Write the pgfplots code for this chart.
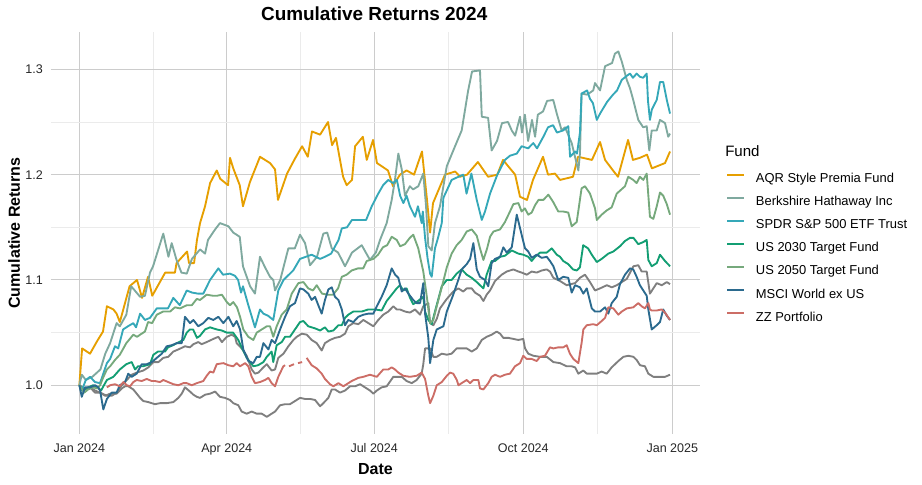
\documentclass[border=0pt]{standalone}
\usepackage{pgfplots}
\pgfplotsset{compat=1.18}
\usepackage{fontspec}
\setmainfont{Liberation Sans}
\definecolor{cAQR}{HTML}{E69F00}
\definecolor{cBRK}{HTML}{7FA99F}
\definecolor{cSPY}{HTML}{35A8B8}
\definecolor{cUS30}{HTML}{139E73}
\definecolor{cUS50}{HTML}{76A97C}
\definecolor{cMSCI}{HTML}{2B6A8E}
\definecolor{cZZ}{HTML}{CC6D66}
\definecolor{cGray}{HTML}{7F7F7F}
\begin{document}
\begin{tikzpicture}
\useasboundingbox (-38.25pt,-38.25pt) rectangle (653.25pt,325.5pt);
\begin{axis}[
  at={(0pt,0pt)}, anchor=south west,
  scale only axis, width=486.75pt, height=301.5pt,
  xmin=-17.5, xmax=383.1, ymin=0.9537, ymax=1.3355,
  axis line style={draw=none}, tick style={draw=none},
  xtick={0,91,182,274,366},
  xticklabels={Jan 2024,Apr 2024,Jul 2024,Oct 2024,Jan 2025},
  minor xtick={45.5,136.5,228,320},
  ytick={1.0,1.1,1.2,1.3}, minor ytick={1.05,1.15,1.25},
  grid=both,
  major grid style={color=black!20, line width=0.8pt},
  minor grid style={color=black!8, line width=0.6pt},
  /pgf/number format/assume math mode=true,
  yticklabel style={/pgf/number format/.cd, fixed, fixed zerofill, precision=1, /tikz/.cd,
    font=\fontsize{9.4}{11}\selectfont, text=black!85, inner sep=0pt, xshift=-6pt},
  xticklabel style={font=\fontsize{9.4}{11}\selectfont, text=black!85, inner sep=0pt, yshift=-6.75pt},
  unbounded coords=jump,
  legend cell align=left,
  legend image code/.code={\draw[#1, line width=1.5pt] (0pt,3.5pt) -- (12.75pt,3.5pt); \path (0pt,0pt) (21pt,0pt);},
  legend style={at={(1.0401,0.6493)}, anchor=north west, draw=none, fill=none,
    inner sep=0pt, outer sep=0pt, row sep=8pt, column sep=0pt,
    font=\fontsize{9.7}{12}\selectfont,
    nodes={inner sep=0pt, text height=7.3pt, text depth=2pt}},
  every axis plot/.append style={line width=1.4pt, line join=round},
]
% gray upper (not in legend)
\addplot[cGray, forget plot] coordinates {
(0,1.0)(3.5,0.996)(6.6,0.998)(9.7,0.995)(12.8,0.993)(17,0.99)(20,0.99)(23,0.993)(26.2,1.0)(29.3,1.005)(32.3,1.01)(35.4,1.012)(39.5,1.014)(42.6,1.017)(45.7,1.022)(48.8,1.022)(51.8,1.026)(54.9,1.027)(58,1.032)(61.1,1.034)(65.2,1.037)(68.3,1.036)(70.4,1.039)(73.4,1.041)(75.5,1.039)(78.6,1.041)(82.7,1.044)(85.8,1.046)(88,1.041)(91,1.046)(94,1.048)(96.1,1.046)(97.1,1.04)(100.2,1.035)(103.3,1.028)(106.4,1.015)(108.4,1.011)(110.5,1.012)(113.6,1.017)(115.7,1.02)(118.7,1.014)(120.8,1.015)(122.8,1.026)(126,1.03)(129,1.037)(132.1,1.043)(134.2,1.046)(137.3,1.049)(140.4,1.048)(143.4,1.043)(146.5,1.04)(149.6,1.033)(151.6,1.04)(154.7,1.043)(157.8,1.045)(160.9,1.046)(164,1.049)(166,1.056)(169.1,1.059)(172.2,1.058)(175.3,1.062)(178.4,1.059)(181.5,1.056)(184.5,1.062)(187.6,1.067)(190.7,1.07)(193.8,1.075)(195.9,1.072)(197.9,1.072)(201,1.07)(204.1,1.069)(207.2,1.072)(210.3,1.067)(212.3,1.075)(215.4,1.078)(216.5,1.059)(218.5,1.057)(220.6,1.063)(222.6,1.073)(226.8,1.082)(230.8,1.089)(233.9,1.092)(237,1.089)(239.1,1.092)(242.2,1.092)(244.2,1.088)(247.3,1.085)(249.4,1.08)(251.4,1.086)(253.5,1.09)(256.6,1.099)(260.7,1.105)(263.8,1.108)(267.9,1.11)(271,1.108)(273,1.107)(276.2,1.105)(279.2,1.108)(282.3,1.107)(285.4,1.109)(288.5,1.11)(290.5,1.108)(292.6,1.102)(296.7,1.099)(300.8,1.095)(306,1.097)(309,1.102)(312.1,1.105)(315.2,1.098)(318.3,1.09)(321.4,1.092)(325.6,1.095)(328.7,1.093)(331.7,1.095)(334.8,1.098)(337.9,1.101)(342,1.113)(345,1.114)(347.1,1.108)(350.2,1.108)(352.2,1.087)(354.3,1.092)(356.4,1.097)(359.5,1.095)(362.6,1.098)(364.6,1.096)
};
% gray lower (not in legend)
\addplot[cGray, forget plot] coordinates {
(0,1.0)(3.5,0.996)(6.6,0.998)(9.7,0.993)(12.8,0.993)(15.9,0.99)(19,0.992)(23,0.992)(26.2,0.997)(28.2,0.999)(30.2,0.999)(33.3,0.996)(35.4,0.992)(37.5,0.988)(39.5,0.985)(42.6,0.984)(46.7,0.982)(49.8,0.983)(54,0.983)(58,0.984)(61.1,0.988)(63.2,0.992)(65.2,0.998)(68.3,0.994)(70.4,0.991)(72.5,0.989)(74.5,0.988)(77.6,0.991)(80.7,0.992)(83.8,0.994)(86.8,0.989)(89.9,0.988)(93,0.986)(95,0.983)(98.1,0.981)(100.2,0.975)(103.3,0.973)(106.4,0.975)(109.5,0.973)(112.6,0.973)(115.7,0.97)(118.7,0.973)(120.8,0.975)(123.9,0.981)(127,0.982)(130,0.982)(133.1,0.985)(136.2,0.988)(139.3,0.987)(142.4,0.987)(145.5,0.986)(148.6,0.98)(150.6,0.983)(153.7,0.988)(155.8,0.996)(157.8,0.996)(160.9,0.993)(164,0.995)(167.1,0.999)(170.2,0.999)(173.3,1.001)(176.3,0.998)(179.4,0.995)(181.5,0.992)(183.6,0.995)(186.6,0.998)(189.7,0.999)(193.8,1.008)(195.9,1.008)(199,1.008)(202,1.004)(205.2,1.002)(208.2,1.005)(211.3,1.011)(212.3,1.02)(213.4,1.035)(216.5,1.035)(218.5,1.027)(220.6,1.027)(223.7,1.03)(226.8,1.029)(229.8,1.03)(232.9,1.035)(234.9,1.035)(239.1,1.035)(242.2,1.032)(245.3,1.035)(248.4,1.043)(251.4,1.046)(254.5,1.048)(257.6,1.051)(259.7,1.049)(261.7,1.045)(264.8,1.045)(267.9,1.044)(271,1.043)(274,1.044)(275.1,1.035)(277.1,1.03)(280.2,1.028)(284.4,1.027)(288.5,1.027)(292.6,1.022)(296.7,1.021)(300.8,1.018)(303.9,1.018)(306,1.017)(308,1.011)(311.1,1.014)(313.2,1.011)(319.4,1.011)(322.4,1.013)(325.5,1.011)(328.6,1.017)(332.7,1.023)(335.8,1.027)(338.9,1.028)(342,1.027)(344,1.024)(346.1,1.019)(349.1,1.018)(351.2,1.011)(354.3,1.008)(358.4,1.008)(361.5,1.008)(364.6,1.01)
};
% AQR Style Premia Fund
\addplot[cAQR] coordinates {
(0,1.0)(1.7,1.035)(6.6,1.03)(11,1.042)(14.6,1.051)(17,1.075)(21,1.072)(23,1.068)(25,1.06)(31,1.094)(35.6,1.1)(38.7,1.083)(42.4,1.103)(45,1.085)(53,1.107)(59,1.107)(60,1.116)(66.5,1.127)(67.7,1.116)(70.8,1.116)(72.6,1.138)(74.5,1.154)(77.6,1.17)(80.7,1.192)(84.8,1.204)(87,1.196)(91.8,1.19)(93,1.216)(95,1.206)(99,1.19)(101,1.17)(105.3,1.193)(111.5,1.217)(117.7,1.211)(120.8,1.205)(122.6,1.176)(128.2,1.201)(133,1.215)(137.5,1.227)(141,1.217)(143.6,1.241)(148.6,1.238)(153.5,1.25)(156,1.228)(158.4,1.235)(162.8,1.198)(165,1.19)(168.3,1.195)(170.2,1.227)(175,1.236)(177.4,1.214)(181.3,1.233)(183.7,1.211)(190.5,1.204)(193.6,1.189)(197.9,1.2)(202,1.204)(206.6,1.2)(211.5,1.222)(214.6,1.176)(216.5,1.145)(218.3,1.173)(225.7,1.2)(232,1.203)(235,1.198)(239.3,1.2)(246,1.212)(252.3,1.198)(258,1.2)(261.5,1.214)(269,1.2)(272,1.179)(276.3,1.176)(280,1.195)(286.2,1.217)(289.3,1.2)(293.6,1.201)(296.7,1.195)(304.7,1.198)(307.8,1.217)(316.4,1.214)(321.4,1.231)(324.5,1.214)(329.4,1.204)(332.5,1.198)(338.7,1.233)(341.7,1.214)(346,1.216)(350.4,1.219)(353.4,1.206)(361.5,1.211)(364.6,1.222)
};
\addlegendentry{AQR Style Premia Fund}
% Berkshire Hathaway Inc
\addplot[cBRK] coordinates {
(0,1.0)(1.5,1.01)(4,1.005)(8,1.008)(13,1.015)(16,1.03)(19,1.04)(23,1.059)(25,1.056)(29,1.067)(32,1.094)(37.5,1.084)(40.5,1.085)(43.6,1.107)(45.5,1.113)(51.8,1.144)(55,1.122)(57,1.135)(60,1.119)(63,1.107)(66.3,1.106)(69.5,1.12)(74.5,1.129)(77.6,1.125)(79.4,1.138)(83.8,1.148)(86.8,1.154)(92,1.151)(95,1.145)(99,1.141)(101,1.113)(105.4,1.094)(108.4,1.087)(111.5,1.122)(114.6,1.112)(117.7,1.103)(119.7,1.1)(120.8,1.09)(124,1.1)(129,1.13)(133,1.13)(136.2,1.143)(139.3,1.135)(142.4,1.114)(146.7,1.122)(150.6,1.144)(153,1.145)(155.8,1.13)(159.7,1.126)(164,1.113)(168.3,1.126)(174.3,1.133)(179.4,1.119)(183,1.126)(185.6,1.138)(189.7,1.154)(192.8,1.176)(194.8,1.195)(196.9,1.22)(199,1.205)(201,1.18)(204,1.189)(206,1.186)(209.2,1.189)(212.3,1.201)(214,1.17)(215.4,1.132)(217.5,1.128)(219.5,1.154)(222.6,1.17)(226.8,1.208)(231.9,1.227)(236,1.242)(240,1.28)(242.4,1.298)(247.3,1.299)(248.4,1.255)(252.3,1.254)(254.5,1.223)(257.8,1.232)(260.9,1.249)(264.6,1.25)(266.9,1.242)(269,1.237)(272,1.255)(273.2,1.24)(275,1.257)(277,1.232)(279.4,1.252)(281.3,1.236)(283,1.257)(286.2,1.26)(288.7,1.27)(292.5,1.271)(294.7,1.258)(297.7,1.242)(299.8,1.245)(303.9,1.23)(308,1.204)(309,1.22)(310,1.277)(313.4,1.276)(317.2,1.28)(318.3,1.287)(321.4,1.28)(324.5,1.303)(328.8,1.306)(330.6,1.315)(332.7,1.317)(334.9,1.307)(337.9,1.29)(339.9,1.282)(341.7,1.272)(345,1.252)(348,1.245)(350.2,1.246)(351.8,1.223)(353.3,1.242)(356.4,1.242)(358.4,1.252)(361.5,1.249)(363.5,1.236)(364.6,1.239)
};
\addlegendentry{Berkshire Hathaway Inc}
% SPDR S&P 500 ETF Trust
\addplot[cSPY] coordinates {
(0,1.0)(1.5,0.995)(4,1.005)(6.6,1.008)(9.7,1.003)(12.8,1.002)(15,1.012)(17,1.021)(19,1.025)(22,1.037)(24,1.035)(27,1.053)(30,1.056)(33.3,1.059)(35,1.055)(37.5,1.068)(40.5,1.062)(43.6,1.064)(47.8,1.073)(51.7,1.073)(54.7,1.073)(58,1.083)(62,1.076)(66.3,1.09)(69.6,1.088)(73.3,1.087)(76.5,1.087)(80.7,1.1)(85.8,1.111)(88.7,1.105)(93,1.106)(96,1.104)(98,1.1)(99.8,1.088)(101,1.094)(104.3,1.076)(108.4,1.055)(111.5,1.072)(113.6,1.068)(116.5,1.066)(119.7,1.062)(122.8,1.09)(126,1.1)(132,1.109)(136.2,1.12)(143.4,1.124)(148.6,1.12)(151.6,1.122)(155.4,1.125)(160,1.138)(162,1.149)(165.2,1.15)(168.3,1.157)(173.3,1.157)(177,1.157)(180.5,1.17)(184.5,1.182)(187.5,1.19)(190.7,1.195)(193.6,1.192)(196,1.195)(198,1.18)(200,1.173)(202,1.18)(204,1.17)(207.2,1.16)(209,1.17)(211.3,1.154)(212,1.165)(213.4,1.14)(215,1.12)(216.5,1.106)(217.5,1.103)(219.5,1.13)(221.4,1.14)(223.7,1.154)(224.7,1.178)(229.8,1.195)(234,1.198)(237,1.2)(239,1.182)(242,1.201)(245.3,1.176)(248.4,1.157)(250.4,1.165)(253.5,1.182)(258,1.2)(262.7,1.214)(265.8,1.218)(270,1.22)(273,1.227)(277,1.225)(280.2,1.23)(282.5,1.225)(286.4,1.236)(289.3,1.245)(292.4,1.247)(294.8,1.24)(298.6,1.242)(301.8,1.246)(302.9,1.217)(306,1.222)(307.2,1.22)(309,1.24)(310,1.277)(313.4,1.28)(315.2,1.272)(317,1.268)(319.4,1.252)(321.4,1.258)(325.7,1.269)(329.4,1.276)(331.9,1.28)(334.8,1.29)(338,1.294)(339.9,1.296)(341.7,1.292)(344,1.296)(346,1.293)(348,1.292)(350.2,1.296)(351,1.27)(352.2,1.252)(353.4,1.262)(356.4,1.271)(358.4,1.288)(360.4,1.288)(362.6,1.271)(364.6,1.258)
};
\addlegendentry{SPDR S\&P 500 ETF Trust}
% US 2030 Target Fund
\addplot[cUS30] coordinates {
(0,1.0)(2,0.995)(5.4,0.998)(8.5,1.0)(11,0.998)(13.4,0.995)(17,1.005)(21,1.008)(25,1.015)(29,1.02)(32.3,1.022)(34.4,1.015)(36.2,1.018)(39.3,1.018)(43.6,1.02)(45.7,1.029)(48.6,1.032)(52.9,1.032)(54.7,1.036)(57.8,1.038)(60.3,1.04)(64.2,1.043)(66.3,1.05)(68.3,1.053)(70.2,1.053)(72.6,1.045)(74.5,1.047)(77.6,1.053)(80.7,1.055)(84.8,1.053)(87.9,1.052)(91,1.05)(94.9,1.05)(98.1,1.043)(100.2,1.036)(103.3,1.026)(105.4,1.022)(107.4,1.018)(110.3,1.019)(113.6,1.022)(115.7,1.027)(118.7,1.032)(119.7,1.022)(121.8,1.038)(124.9,1.041)(127,1.046)(130,1.046)(133.1,1.053)(136.2,1.06)(138.3,1.061)(141.3,1.056)(145.5,1.054)(148.6,1.052)(151.6,1.055)(153.7,1.051)(156.8,1.052)(159.9,1.057)(162,1.057)(164,1.064)(166,1.067)(169.1,1.07)(172.2,1.07)(174.3,1.07)(178.4,1.072)(182.5,1.072)(186.6,1.071)(189.7,1.08)(192.8,1.086)(195.9,1.092)(197.9,1.095)(200,1.09)(202,1.092)(204.1,1.083)(206.1,1.077)(209,1.08)(212.3,1.084)(213.4,1.07)(215.4,1.062)(217.5,1.058)(219.5,1.07)(223.7,1.094)(226.8,1.1)(229.8,1.1)(232.9,1.106)(236,1.11)(239.1,1.105)(242.2,1.102)(245.3,1.098)(247.3,1.095)(249.4,1.092)(251.4,1.105)(254.5,1.118)(256.6,1.118)(259.7,1.122)(262.7,1.123)(266.9,1.128)(271,1.125)(274,1.124)(277.1,1.122)(279.2,1.118)(281.3,1.122)(284.4,1.126)(288.5,1.126)(291.6,1.13)(294.7,1.124)(296.7,1.122)(298.7,1.118)(301.8,1.115)(304.7,1.11)(307,1.109)(309,1.112)(311,1.133)(314,1.13)(316.3,1.124)(319.4,1.117)(322.4,1.12)(326.5,1.125)(329.6,1.127)(333.7,1.132)(336.8,1.137)(339.9,1.14)(342,1.14)(345,1.134)(348.1,1.136)(350.2,1.138)(351.2,1.119)(353.3,1.113)(356.4,1.116)(358.4,1.124)(361.5,1.118)(364.6,1.113)
};
\addlegendentry{US 2030 Target Fund}
% US 2050 Target Fund
\addplot[cUS50] coordinates {
(0,1.0)(3,0.993)(5.4,0.996)(8.5,0.998)(11,0.997)(12.8,1.0)(14.6,1.007)(17,1.015)(19,1.018)(22,1.024)(25,1.029)(29,1.04)(33.3,1.048)(35.6,1.046)(37.5,1.048)(40.5,1.051)(42.4,1.06)(44.9,1.059)(47.8,1.067)(51.7,1.07)(56,1.07)(59,1.074)(62.2,1.073)(66.3,1.076)(69.4,1.076)(72.5,1.082)(74.5,1.081)(78.6,1.086)(82.5,1.085)(85,1.085)(88,1.086)(91,1.079)(93,1.076)(95,1.079)(97.3,1.074)(99.2,1.065)(101.2,1.053)(104.3,1.046)(107.4,1.043)(109.5,1.05)(112.6,1.053)(115.7,1.056)(117.7,1.056)(119.7,1.046)(121.8,1.056)(124.9,1.067)(128,1.072)(131.1,1.087)(135.2,1.097)(138.3,1.098)(141.3,1.092)(144.2,1.09)(146.5,1.095)(149.8,1.087)(153.5,1.086)(156.6,1.086)(159.7,1.092)(162,1.103)(165,1.105)(168.1,1.109)(172,1.111)(175.2,1.111)(177.4,1.118)(181.5,1.12)(184.4,1.124)(187.4,1.131)(190,1.133)(192.8,1.141)(195.9,1.138)(198,1.132)(201,1.134)(204,1.14)(206.1,1.143)(209.2,1.13)(212.3,1.108)(214.4,1.085)(216.5,1.059)(218.5,1.062)(220.6,1.075)(223.7,1.093)(226.8,1.112)(229.8,1.125)(232.9,1.133)(236,1.138)(239.1,1.146)(242.2,1.148)(245.3,1.142)(247.3,1.13)(249.4,1.119)(251.7,1.13)(253.5,1.141)(255.6,1.146)(259.7,1.148)(262.7,1.155)(265.8,1.165)(267.9,1.172)(271,1.173)(273,1.165)(275,1.168)(277.1,1.162)(279.2,1.164)(281.3,1.171)(283.4,1.176)(286.4,1.176)(289.5,1.181)(292.5,1.174)(295.6,1.165)(298.7,1.165)(301.8,1.164)(303.9,1.151)(307,1.155)(310,1.187)(312.1,1.189)(315.2,1.182)(318.3,1.168)(319.4,1.157)(322.4,1.162)(325.5,1.166)(328.6,1.169)(331.7,1.182)(336.8,1.189)(338.8,1.198)(341.9,1.195)(344,1.192)(346,1.198)(348.1,1.195)(350.2,1.201)(352.2,1.16)(354.3,1.158)(356.4,1.17)(358.4,1.183)(360.4,1.18)(362.6,1.172)(364.6,1.162)
};
\addlegendentry{US 2050 Target Fund}
% MSCI World ex US
\addplot[cMSCI] coordinates {
(0,1.0)(1.5,0.989)(3.5,0.998)(6.6,0.998)(9.7,1.0)(11.7,0.998)(12.8,0.995)(14.8,0.977)(17,0.987)(20,0.993)(23,0.993)(25,1.0)(28.2,1.003)(30.2,1.011)(32.3,1.008)(35.4,1.011)(38.5,1.02)(41.6,1.02)(44.7,1.022)(47.8,1.026)(50.9,1.03)(53.9,1.037)(57,1.038)(60.1,1.04)(63.2,1.04)(65.2,1.065)(68.3,1.059)(70.4,1.062)(73.4,1.056)(76.5,1.059)(79.6,1.064)(82.7,1.062)(85.8,1.065)(88.9,1.059)(92,1.065)(95,1.056)(97.1,1.061)(99.2,1.053)(101.2,1.034)(104.3,1.023)(107.4,1.021)(109.5,1.027)(111.5,1.027)(113.6,1.04)(116.7,1.034)(118.7,1.043)(120.8,1.04)(123.9,1.053)(127,1.065)(130,1.075)(133.1,1.078)(136.2,1.092)(138.3,1.091)(141.3,1.087)(143.4,1.081)(145.5,1.084)(147.5,1.076)(149.6,1.068)(151.6,1.081)(153.7,1.091)(155.8,1.093)(157.8,1.084)(159.9,1.081)(162,1.072)(164,1.057)(166,1.062)(169.1,1.06)(172.2,1.065)(175.3,1.067)(178.4,1.068)(181.5,1.068)(183.6,1.075)(186.6,1.084)(189.7,1.095)(192.8,1.111)(194.9,1.105)(196.9,1.102)(199,1.089)(201,1.092)(203.1,1.087)(206.1,1.081)(208.2,1.078)(210.3,1.078)(212.3,1.097)(213.4,1.068)(215.4,1.045)(216.5,1.021)(218.5,1.043)(220.6,1.053)(224.7,1.056)(226.8,1.07)(230.8,1.086)(233.9,1.1)(236,1.11)(239.1,1.115)(241.2,1.12)(243.2,1.135)(245.3,1.11)(247.3,1.103)(250.4,1.1)(252.4,1.094)(254.5,1.116)(256.6,1.12)(259.7,1.122)(261.7,1.131)(263.8,1.126)(266.9,1.131)(270,1.162)(273,1.143)(275.1,1.13)(277.1,1.127)(279.2,1.121)(282.3,1.124)(285.4,1.121)(288.5,1.122)(290.5,1.118)(292.6,1.113)(295.6,1.1)(298.7,1.103)(301.8,1.102)(303.9,1.088)(306,1.095)(309,1.093)(311.1,1.087)(313.2,1.092)(316.3,1.073)(318.3,1.07)(321.4,1.07)(324.5,1.074)(326.5,1.068)(328.6,1.078)(331.7,1.084)(333.7,1.096)(336.8,1.105)(339.9,1.111)(341.9,1.11)(344,1.103)(346,1.095)(348.1,1.09)(350.2,1.085)(351.2,1.072)(353.3,1.053)(356.4,1.057)(358.4,1.06)(360.4,1.072)(362.6,1.066)(364.6,1.062)
};
\addlegendentry{MSCI World ex US}
% ZZ Portfolio (with gaps)
\addplot[cZZ] coordinates {
(17,0.998)(19,1.0)(22,1.001)(25,0.999)(27.2,1.003)(29.3,1.0)(31.3,0.999)(33.3,1.003)(35.4,1.005)(38.5,1.004)(41.6,1.006)(44.7,1.004)(46.7,1.004)(49.8,1.003)(51.8,1.005)(54.9,1.003)(58,1.001)(61.1,1.0)(64.2,1.002)(66.3,1.002)(69.4,1.0)(72.5,1.002)(76.5,1.004)(78.6,1.009)(80.7,1.013)(82.7,1.012)(84.8,1.02)(88.9,1.021)(92,1.019)(95,1.018)(97.1,1.021)(99.2,1.018)(102.3,1.021)(104.3,1.018)(106.4,1.008)(108.4,1.002)(111.5,1.003)(114.6,1.005)(116.7,1.007)(118.7,1.002)(120.8,0.999)(122.8,1.008)(125.9,1.018)(127,1.019)
(128,nan)
(129.4,1.018)(132.5,1.02)
(134,nan)
(135,1.021)(137.5,1.022)
(139,nan)
(140.3,1.026)(143.4,1.019)(146.5,1.016)(149.6,1.011)(151.6,1.006)(154.7,1.001)(156.8,0.999)(159.9,1.002)(163,0.999)(165,1.001)(168.1,1.004)(172.2,1.007)(175.3,1.008)(179.4,1.01)(183.6,1.008)(187.6,1.015)(190.7,1.015)(192.8,1.017)(194.8,1.015)(196.9,1.012)(200,1.009)(204,1.008)(208.2,1.009)(211.3,1.012)(213.4,1.006)(214.4,0.998)(215.4,0.99)(216.5,0.983)(218.5,0.99)(220.6,1.0)(223.7,1.003)(226.8,1.009)(228.8,1.012)(230.8,1.011)(233,1.005)(234,1.0)(237,1.003)(239.1,1.005)(241.2,1.002)(243.2,1.005)(246.3,1.005)(247.3,0.997)(249.4,0.996)(252.4,1.002)(254.5,1.008)(256.6,1.01)(259.7,1.008)(262.7,1.01)(265.8,1.011)(268.9,1.018)(272,1.021)(274,1.028)(276.1,1.025)(279.2,1.025)(282.3,1.023)(284.4,1.027)(287.4,1.028)(290.5,1.036)(292.6,1.035)(295.6,1.036)(298.7,1.036)(300.8,1.038)(302.8,1.03)(304.9,1.025)(308,1.021)(310,1.04)(311.1,1.053)(313.2,1.057)(317.2,1.058)(319.4,1.057)(322.4,1.061)(324.5,1.064)(326.5,1.074)(329.6,1.073)(332.7,1.067)(334.8,1.07)(337.9,1.073)(341.9,1.074)(345,1.078)(347.1,1.075)(349.1,1.073)(351.2,1.078)(352.2,1.072)(353.3,1.071)(356.4,1.071)(359.5,1.072)(361.5,1.069)(364.6,1.062)
};
\addlegendentry{ZZ Portfolio}
\end{axis}
\node[anchor=base, inner sep=0pt, font=\bfseries\fontsize{14.2}{17}\selectfont] at (242.4pt,310pt) {Cumulative Returns 2024};
\node[anchor=base, inner sep=0pt, font=\bfseries\fontsize{12}{14}\selectfont] at (243.4pt,-30.75pt) {Date};
\node[anchor=base, inner sep=0pt, rotate=90, font=\bfseries\fontsize{12}{14}\selectfont] at (-23.25pt,150.75pt) {Cumulative Returns};
\node[anchor=base west, inner sep=0pt, font=\fontsize{11.3}{13}\selectfont] at (505.5pt,208pt) {Fund};
\end{tikzpicture}
\end{document}
